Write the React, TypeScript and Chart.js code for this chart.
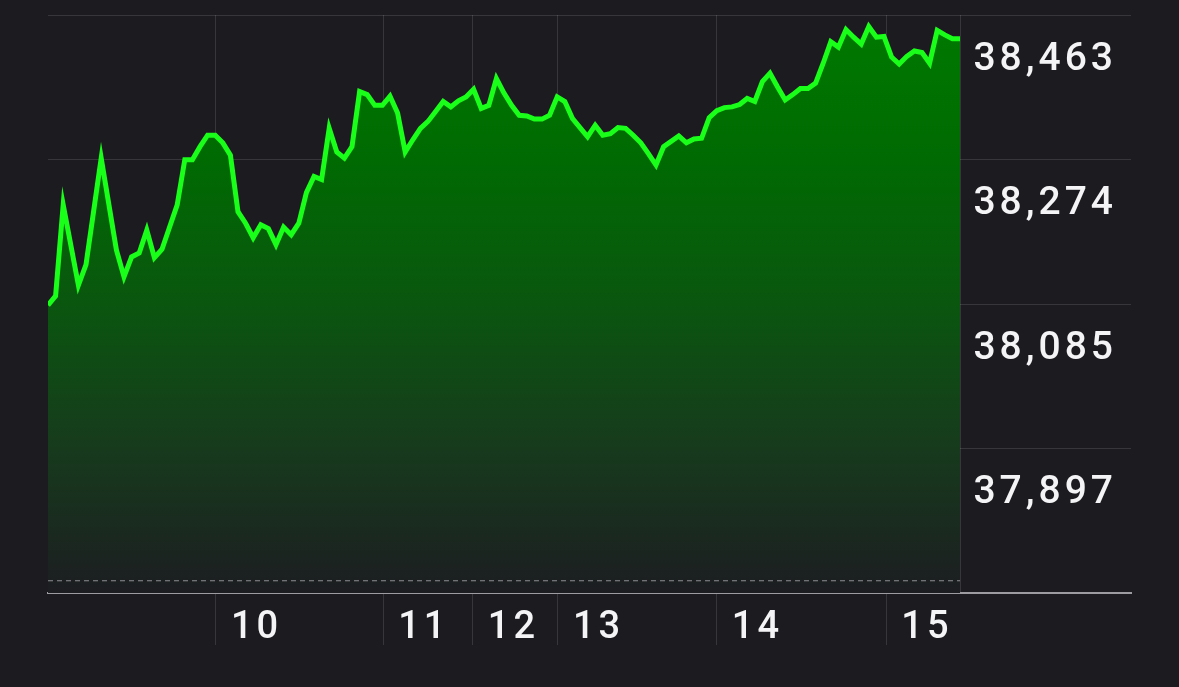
import React, { useEffect, useRef } from "react";
import { Chart, registerables } from "chart.js";

Chart.register(...registerables);

// Sample index (equal time steps) of each visible vertex of the price line
const pointIndex = [
  0, 1, 2, 4, 5, 7, 9, 10, 11, 12, 13, 14, 15, 17, 18, 19, 20, 21, 22, 23,
  24, 25, 26, 27, 28, 29, 30, 31, 32, 33, 34, 35, 36, 37, 38, 39, 40, 41, 42, 43,
  44, 45, 46, 47, 48, 49, 50, 51, 52, 53, 54, 55, 56, 57, 58, 59, 60, 61, 62, 63,
  64, 65, 66, 67, 68, 69, 70, 71, 72, 73, 74, 75, 76, 77, 78, 79, 80, 81, 83, 84,
  85, 86, 87, 88, 89, 90, 91, 92, 93, 94, 95, 96, 97, 98, 99, 100, 101, 102, 103, 104,
  105, 106, 107, 108, 109, 110, 111, 112, 113, 114, 115, 116, 117, 118, 119, 120,
];

// Index value at each of those samples
const pointValue = [
  38084, 38096, 38215, 38110, 38137, 38276, 38156, 38121, 38147, 38152, 38182, 38146, 38157, 38215, 38274, 38274, 38291, 38306, 38306, 38296,
  38280, 38206, 38191, 38172, 38189, 38184, 38163, 38186, 38176, 38191, 38231, 38252, 38248, 38315, 38284, 38276, 38291, 38363, 38359, 38345,
  38345, 38357, 38335, 38284, 38300, 38315, 38324, 38337, 38350, 38343, 38351, 38356, 38366, 38341, 38345, 38380, 38361, 38345, 38332, 38331,
  38327, 38327, 38332, 38356, 38350, 38328, 38316, 38304, 38319, 38306, 38308, 38316, 38315, 38306, 38296, 38282, 38267, 38291, 38305, 38296,
  38301, 38302, 38329, 38338, 38342, 38343, 38346, 38354, 38350, 38376, 38387, 38369, 38352, 38359, 38367, 38367, 38374, 38400, 38428, 38421,
  38444, 38434, 38425, 38448, 38434, 38435, 38408, 38399, 38409, 38416, 38414, 38400, 38443, 38437, 38432, 38432,
];

// Day boundaries (in sample index units) and their labels
const dayTickIndex = [22.1, 44.1, 55.9, 67.1, 88.0, 110.3];
const dayLabels = ["10", "11", "12", "13", "14", "15"];
const sessionEndIndex = 120;
const axisEndIndex = 142.5;

// Price axis
const yTickValues = [37897, 38085, 38274, 38463];
const yMin = 37708;
const yMax = 38463;
const baselineValue = 37724;

const LETTER_SPACING = 4;

const letterSpacingPlugin = {
  id: "letterSpacing",
  beforeDraw(chart: any) {
    try {
      chart.ctx.letterSpacing = LETTER_SPACING + "px";
    } catch (e) {
      /* ignore */
    }
  },
  afterDraw(chart: any) {
    try {
      chart.ctx.letterSpacing = "0px";
    } catch (e) {
      /* ignore */
    }
  },
};

export default function App() {
  const ref = useRef<HTMLCanvasElement>(null);

  useEffect(() => {
    const canvas = ref.current;
    if (!canvas) return;

    const lineData = pointIndex.map((x, i) => ({ x, y: pointValue[i] }));
    const baseData = [
      { x: 0, y: baselineValue },
      { x: sessionEndIndex, y: baselineValue },
    ];
    const gridColor = "rgba(255,255,255,0.12)";

    const chart = new Chart(canvas, {
      type: "line",
      data: {
        datasets: [
          {
            data: baseData,
            borderColor: "#8e8e93",
            borderWidth: 1,
            borderDash: [5, 4],
            pointRadius: 0,
            fill: false,
          },
          {
            data: lineData,
            borderColor: "#19ff19",
            borderWidth: 5,
            pointRadius: 0,
            tension: 0,
            fill: "start",
            backgroundColor: (ctx: any) => {
              const c = ctx.chart;
              const area = c.chartArea;
              if (!area) return "transparent";
              const g = c.ctx.createLinearGradient(0, area.top, 0, area.bottom);
              g.addColorStop(0, "#007a00");
              g.addColorStop(0.25, "#006a02");
              g.addColorStop(0.5, "#0a560f");
              g.addColorStop(0.75, "#173a1d");
              g.addColorStop(1, "#1c1d21");
              return g;
            },
          },
        ],
      },
      plugins: [letterSpacingPlugin],
      options: {
        animation: false,
        responsive: false,
        maintainAspectRatio: false,
        events: [],
        layout: { padding: { left: 48, top: 15, right: 0, bottom: 0 } },
        plugins: {
          legend: { display: false },
          tooltip: { enabled: false },
        },
        scales: {
          x: {
            type: "linear",
            position: "bottom",
            min: 0,
            max: axisEndIndex,
            z: 1,
            afterBuildTicks: (s: any) => {
              s.ticks = [...dayTickIndex, sessionEndIndex].map((v) => ({ value: v }));
            },
            afterFit: (s: any) => {
              s.height = 94;
              s.paddingLeft = 0;
              s.paddingRight = 0;
            },
            grid: {
              color: gridColor,
              lineWidth: 1,
              drawTicks: true,
              tickLength: 52,
              tickColor: (c: any) =>
                c.tick && c.tick.value === sessionEndIndex ? "rgba(0,0,0,0)" : gridColor,
            },
            border: { display: true, color: "#9d9da1", width: 2 },
            ticks: {
              autoSkip: false,
              maxRotation: 0,
              align: "start",
              labelOffset: 15,
              padding: -39,
              color: "#f4f4f6",
              font: { family: "Roboto", size: 38, weight: "500" },
              callback: (_v: any, i: number) => dayLabels[i] ?? "",
            },
          },
          y: {
            type: "linear",
            position: "right",
            min: yMin,
            max: yMax,
            z: 1,
            afterBuildTicks: (s: any) => {
              s.ticks = yTickValues.map((v) => ({ value: v }));
            },
            afterFit: (s: any) => {
              s.width = 48;
              s.paddingTop = 0;
              s.paddingBottom = 0;
            },
            grid: { color: gridColor, lineWidth: 1, drawTicks: false },
            border: { display: false },
            ticks: {
              mirror: true,
              padding: -18 + LETTER_SPACING,
              labelOffset: 45,
              color: "#f4f4f6",
              font: { family: "Roboto", size: 39, weight: "500" },
              callback: (v: any) => Number(v).toLocaleString("en-US"),
            },
          },
        },
      },
    } as any);

    return () => chart.destroy();
  }, []);

  return (
    <div
      style={{
        position: "absolute",
        left: 0,
        top: 0,
        width: 1179,
        height: 687,
        background: "#1c1c20",
      }}
    >
      <canvas ref={ref} width={1179} height={687} style={{ display: "block" }} />
    </div>
  );
}
